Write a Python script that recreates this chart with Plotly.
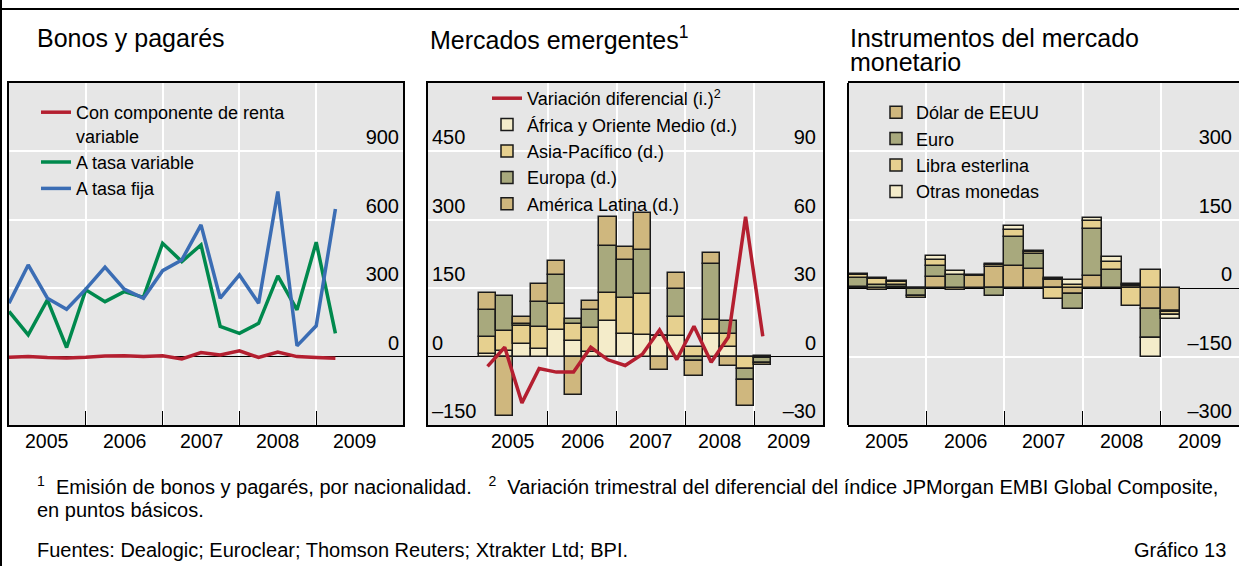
import plotly.graph_objects as go

W, H = 1239, 566
FONT = "Liberation Sans, Arial, sans-serif"

# --- Bonos y pagarés (valores a fin de trimestre) ---
trimestres_bonos = ["2004T4", "2005T1", "2005T2", "2005T3", "2005T4", "2006T1",
                    "2006T2", "2006T3", "2006T4", "2007T1", "2007T2", "2007T3",
                    "2007T4", "2008T1", "2008T2", "2008T3", "2008T4", "2009T1"]
renta_variable = [-3, 0, -4, -6, -3, 3, 4, 0, 4, -10, 18, 7, 25, -4, 20, 0, -4, -7]
tasa_variable = [198, 95, 249, 40, 293, 241, 285, 260, 497, 417, 490, 132, 102, 146,
                 354, 205, 502, 102]
tasa_fija = [234, 402, 256, 208, 296, 392, 296, 256, 377, 424, 578, 256, 358, 234,
             724, 47, 135, 647]

# --- Mercados emergentes ---
trimestres = ["2005T1", "2005T2", "2005T3", "2005T4", "2006T1", "2006T2", "2006T3",
              "2006T4", "2007T1", "2007T2", "2007T3", "2007T4", "2008T1", "2008T2",
              "2008T3", "2008T4", "2009T1"]
africa = [5, 13, 28, 17, 59, 35, 10, 77, 50, 47, 45, 46, 0, 49, 22, 0, 2]
asia = [39, 43, 39, 49, 57, 36, 52, 62, 79, 90, 0, 40, 22, 31, 27, -28, -4]
europa = [59, 77, 4, 53, 63, 12, 41, 104, 83, 96, 0, 63, -10, 123, 30, -23, -9]
america_latina = [36, -131, 16, 40, 30, -85, 20, 64, 28, 82, -30, 34, -33, 24, -20,
                  -57, -5]
diferencial = [-4.3, 4.1, -20.3, -5.2, -6.8, -6.8, 4.1, -1.4, -3.9, 1.0, 11.7, -1.3,
               13.3, -2.5, 8.6, 61.3, 8.9]

# --- Instrumentos del mercado monetario ---
dolar = [2, -4, 3, -2, 25, -4, 26, 46, 48, 43, 17, -13, 27, 0, 4, -46, -49]
euro = [21, 8, 3, -15, 24, 28, 0, -17, 65, 32, 4, -33, 103, 40, 3, -63, -3]
libra = [5, 12, 7, -5, 12, 0, 0, 4, 14, 4, -24, 6, 18, 18, -40, 40, -6]
otras = [4, 3, 3, 0, 9, 9, 2, 3, 10, 3, 2, 13, 5, 11, 3, -42, -10]

anios = ["2005", "2006", "2007", "2008", "2009"]

CREMA = "#f4ecca"
AMARILLO = "#e6d08f"
VERDE = "#a8a97d"
OCRE = "#cfb77e"
ROJO = "#b41f30"
VERDE_LINEA = "#00894d"
AZUL = "#3b6db4"
FONDO = "#e6e6e6"


def fin_trimestre(t):
    anio, q = t.split("T")
    return int(anio) + int(q) / 4


def mitad_trimestre(t):
    anio, q = t.split("T")
    return int(anio) + (int(q) - 0.5) / 4


def px_x(p):
    return p / W


def px_y(p):
    return 1 - p / H


x_bonos = [fin_trimestre(t) for t in trimestres_bonos]
x_trim = [mitad_trimestre(t) for t in trimestres]

fig = go.Figure()

# Panel 1: líneas
for nombre, serie, color in [
    ("Con componente de renta<br>variable", renta_variable, ROJO),
    ("A tasa variable", tasa_variable, VERDE_LINEA),
    ("A tasa fija", tasa_fija, AZUL),
]:
    fig.add_trace(go.Scatter(x=x_bonos, y=serie, mode="lines", name=nombre,
                             line=dict(color=color, width=3.5),
                             xaxis="x", yaxis="y", legend="legend"))

# Panel 2: barras apiladas + diferencial
fig.add_trace(go.Scatter(x=x_trim, y=diferencial, mode="lines",
                         name="Variación diferencial (i.)<sup>2</sup>",
                         line=dict(color=ROJO, width=3.5),
                         xaxis="x2", yaxis="y3", legend="legend2"))
for nombre, serie, color in [
    ("África y Oriente Medio (d.)", africa, CREMA),
    ("Asia-Pacífico (d.)", asia, AMARILLO),
    ("Europa (d.)", europa, VERDE),
    ("América Latina (d.)", america_latina, OCRE),
]:
    fig.add_trace(go.Bar(x=x_trim, y=serie, name=nombre, width=0.25,
                         marker=dict(color=color, line=dict(color="#1a1a1a", width=1.5)),
                         xaxis="x2", yaxis="y2", legend="legend2"))

# Panel 3: barras apiladas por moneda
for nombre, serie, color in [
    ("Dólar de EEUU", dolar, OCRE),
    ("Euro", euro, VERDE),
    ("Libra esterlina", libra, AMARILLO),
    ("Otras monedas", otras, CREMA),
]:
    fig.add_trace(go.Bar(x=x_trim, y=serie, name=nombre, width=0.25,
                         marker=dict(color=color, line=dict(color="#1a1a1a", width=1.5)),
                         xaxis="x3", yaxis="y4", legend="legend3"))

y_dom = [px_y(425), px_y(83)]


def eje_x(dominio, rango, ancla):
    # años rotulados aparte (anotaciones) porque plotly oculta el último rótulo
    # cuando choca con las etiquetas interiores del eje y
    return dict(domain=dominio, range=rango, anchor=ancla,
                showticklabels=False, ticks="", showgrid=False, zeroline=False,
                showline=True, mirror=True, linecolor="black", linewidth=2,
                minor=dict(tickvals=[2006, 2007, 2008, 2009], ticks="inside",
                           ticklen=14, tickcolor="black", tickwidth=1,
                           showgrid=True, gridcolor="white", gridwidth=1.5))


def eje_y(rango, valores, lado, ancla, **extra):
    texto = [str(v).replace("-", "\u2013") for v in valores]
    d = dict(range=rango, anchor=ancla, side=lado, tickvals=valores, ticktext=texto,
             ticks="", ticklabelposition="inside top", ticklabelstandoff=4,
             tickfont=dict(size=20, color="black"))
    d.update(extra)
    return d


grid = dict(showgrid=True, gridcolor="white", gridwidth=1.5,
            zeroline=True, zerolinecolor="black", zerolinewidth=1)
leyenda = dict(xanchor="left", yanchor="top", bgcolor="rgba(0,0,0,0)",
               font=dict(size=18), valign="top", traceorder="normal")

fig.update_layout(
    width=W, height=H, autosize=False,
    margin=dict(l=0, r=0, t=0, b=0),
    paper_bgcolor="white", plot_bgcolor=FONDO,
    font=dict(family=FONT, color="black"),
    barmode="relative", bargap=0,
    xaxis=eje_x([px_x(9), px_x(403)], [2005, 2010.13], "y"),
    xaxis2=eje_x([px_x(428), px_x(823)], [2004.26, 2010.0], "y2"),
    xaxis3=eje_x([px_x(848), 1.0], [2005, 2010.0], "y4"),
    yaxis=eje_y([-300, 1200], [0, 300, 600, 900], "right", "x", domain=y_dom,
                showline=True, mirror=True, linecolor="black", linewidth=2, **grid),
    yaxis2=eje_y([-150, 600], [-150, 0, 150, 300, 450], "left", "x2", domain=y_dom,
                 showline=True, mirror=True, linecolor="black", linewidth=2, **grid),
    yaxis3=eje_y([-30, 120], [-30, 0, 30, 60, 90], "right", "x2", overlaying="y2",
                 showgrid=False, zeroline=False, showline=False),
    yaxis4=eje_y([-300, 450], [-300, -150, 0, 150, 300], "right", "x3", domain=y_dom,
                 showline=False, **grid),
    legend=dict(x=px_x(36), y=px_y(94), **leyenda),
    legend2=dict(x=px_x(487), y=px_y(80), **leyenda),
    legend3=dict(x=px_x(876), y=px_y(94), **leyenda),
    showlegend=True,
)

# rótulos de los años, centrados en cada año
for eje in ["x", "x2", "x3"]:
    for anio in anios:
        fig.add_annotation(text=anio, xref=eje, yref="paper", x=int(anio) + 0.5,
                           y=px_y(441), xanchor="center", yanchor="middle",
                           showarrow=False, font=dict(size=19.5))

# marco exterior y borde izquierdo del panel 3
fig.add_shape(type="line", xref="paper", yref="paper", x0=0, x1=1,
              y0=px_y(9), y1=px_y(9), line=dict(color="black", width=2))
fig.add_shape(type="line", xref="paper", yref="paper", x0=px_x(1), x1=px_x(1),
              y0=0, y1=1, line=dict(color="black", width=2))
fig.add_shape(type="line", xref="x3 domain", yref="y4 domain", x0=0, x1=0,
              y0=0, y1=1, line=dict(color="black", width=2))

titulos = [
    ("Bonos y pagarés", 35, 38),
    ("Mercados emergentes<sup>1</sup>", 428, 38),
    ("Instrumentos del mercado", 848, 38),
    ("monetario", 848, 62),
]
for texto, x, y in titulos:
    fig.add_annotation(text=texto, xref="paper", yref="paper", x=px_x(x), y=px_y(y),
                       xanchor="left", yanchor="middle", showarrow=False,
                       font=dict(size=25))

nb = "\u00a0"
notas = [
    ("<sup>1</sup>" + nb * 2 + "Emisión de bonos y pagarés, por nacionalidad." + nb * 3
     + "<sup>2</sup>" + nb * 2
     + "Variación trimestral del diferencial del índice JPMorgan EMBI Global Composite,",
     35, 485, "left"),
    ("en puntos básicos.", 35, 510, "left"),
    ("Fuentes: Dealogic; Euroclear; Thomson Reuters; Xtrakter Ltd; BPI.", 35, 550, "left"),
    ("Gráfico 13", 1228, 550, "right"),
]
for texto, x, y, anc in notas:
    fig.add_annotation(text=texto, xref="paper", yref="paper", x=px_x(x), y=px_y(y),
                       xanchor=anc, yanchor="middle", showarrow=False,
                       font=dict(size=20))

fig.write_html("out.html", config={"displayModeBar": False},
               post_script="document.body.style.margin='0px';")
